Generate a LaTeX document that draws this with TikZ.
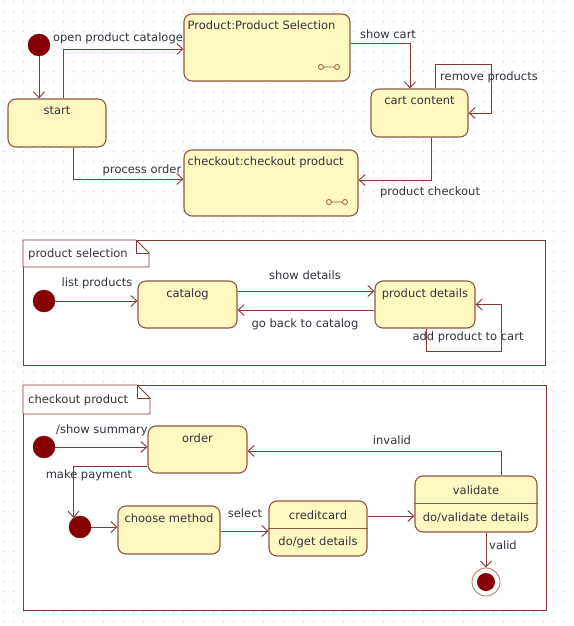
\documentclass[tikz,border=0pt]{standalone}
\usepackage{fontspec}
\setmainfont{DejaVu Sans}
\usetikzlibrary{arrows.meta,patterns.meta}
\definecolor{boxfill}{RGB}{255,248,192}
\definecolor{boxline}{RGB}{145,88,65}
\definecolor{wire}{RGB}{135,55,55}
\definecolor{dotred}{RGB}{135,0,5}
\definecolor{txt}{RGB}{50,50,62}
\definecolor{griddot}{RGB}{200,200,212}
\tikzdeclarepattern{name=griddots,type=uncolored,
  bounding box={(0pt,0pt) and (10pt,10pt)},tile size={(10pt,10pt)},
  code={\fill (5pt,5pt) circle (0.7pt);}}
\begin{document}
\begin{tikzpicture}[x=1pt,y=-1pt,
  font=\fontsize{11.5}{13}\selectfont,
  every node/.style={text=txt},
  sz/.style 2 args={minimum width=#1pt,minimum height=#2pt},
  state/.style={draw=boxline,fill=boxfill,rounded corners=8pt,line width=1.1pt,inner sep=0pt},
  title/.style={label={[anchor=north,yshift=-7pt,inner sep=1pt]north:#1}},
  titlew/.style={label={[anchor=north west,xshift=3pt,yshift=-6pt,inner sep=1pt]north west:#1}},
  init/.style={circle,fill=dotred,draw=dotred!85!black,minimum size=22pt,inner sep=0pt},
  arr/.style={draw=wire,line width=0.9pt,-{Straight Barb[length=6pt,width=11pt]}},
  wireline/.style={draw=wire,line width=0.9pt},
  lab/.style={inner sep=1pt},
  frame/.style={draw=wire,line width=0.9pt,fill=white},
  icon/.style={draw=boxline,line width=0.8pt}]
\useasboundingbox (0,0) rectangle (573,626);
\fill[white] (0,0) rectangle (573,626);
\fill[pattern=griddots,pattern color=griddot] (0,0) rectangle (573,626);

% ---------------- top level ----------------
\node[init] (i1) at (39,45) {};
\node[state,sz={98}{48},title=start] (start) at (57,123) {};
\node[state,sz={166}{67},titlew={Product:Product Selection}] (prodsel) at (267,47.5) {};
\node[state,sz={97}{48},title={cart content}] (cart) at (419.5,113) {};
\node[state,sz={174}{66},titlew={checkout:checkout product}] (checkout) at (271,183) {};
\draw[icon] (321,67) circle (2.5) (323.5,67) -- (334.5,67) (337,67) circle (2.5);
\draw[icon] (329,202) circle (2.5) (331.5,202) -- (342.5,202) (345,202) circle (2.5);
\coordinate (rp) at (491,64);

\draw[arr] (i1.south) -- (i1.south |- start.north);
\draw[arr] ([xshift=6pt]start.north) |- ([yshift=-1.5pt]prodsel.west);
\node[lab] (l1) at (118,38) {open product cataloge};
\draw[arr] ([yshift=4.5pt]prodsel.east) -| ([xshift=-9.5pt]cart.north);
\node[lab] (l2) at (388,34) {show cart};
\draw[arr] ([xshift=15.5pt]cart.north) |- (rp) |- (cart.east);
\node[lab] (l3) at (489,77) {remove products};
\draw[arr] ([xshift=11.5pt]cart.south) |- ([yshift=3pt]checkout.east);
\node[lab] (l4) at (430,192) {product checkout};
\draw[arr] ([xshift=16pt]start.south) |- ([yshift=4pt]checkout.west);
\node[lab] (l5) at (142,170) {process order};

% ---------------- product selection frame ----------------
\draw[frame] (23,240) rectangle (545,365);
\draw[frame] (23,240) -- (136,240) -- (149,253) -- (149,267) -- (23,267) -- cycle;
\draw[wireline] (136,240) -- (136,253) -- (149,253);
\node[lab,anchor=west] (psname) at (27,254) {product selection};

\node[init] (i2) at (44,301) {};
\node[state,sz={99}{47},title=catalog] (catalog) at (187.5,304.5) {};
\node[state,sz={100}{47},title={product details}] (pdetails) at (425,304.5) {};
\coordinate (ap) at (501,351);

\draw[arr] (i2.east) -- (i2.east -| catalog.west);
\node[lab] (l6) at (97,283) {list products};
\draw[arr] ([yshift=13.5pt]catalog.east) -- ([yshift=13.5pt]pdetails.west);
\node[lab] (l7) at (305,275) {show details};
\draw[arr] ([yshift=-5.5pt]pdetails.west) -- ([yshift=-5.5pt]catalog.east);
\node[lab] (l8) at (305,324) {go back to catalog};
\draw[arr] ([xshift=1pt]pdetails.south) |- (ap) |- (pdetails.east);
\node[lab] (l9) at (468,337) {add product to cart};

% ---------------- checkout product frame ----------------
\draw[frame] (23,385) rectangle (546,610);
\draw[frame] (23,385) -- (137,385) -- (150,398) -- (150,414) -- (23,414) -- cycle;
\draw[wireline] (137,385) -- (137,398) -- (150,398);
\node[lab,anchor=west] (cpname) at (27,400) {checkout product};

\node[init] (i3) at (44,447) {};
\node[init] (i4) at (80,527) {};
\node[state,sz={99}{47},title=order] (order) at (197.5,449.5) {};
\node[state,sz={102}{48},title={choose method}] (choose) at (169,530) {};
\node[state,sz={98}{55}] (credit) at (318,528.5) {};
\draw[draw=boxline,line width=1pt] (credit.west |- 0,528) -- (credit.east |- 0,528);
\node[lab] (cc1) at (318,515) {creditcard};
\node[lab] (cc2) at (318,542) {do/get details};
\node[state,sz={122}{56}] (validate) at (476,504) {};
\draw[draw=boxline,line width=1pt] (validate.west |- 0,503) -- (validate.east |- 0,503);
\node[lab] (va1) at (476,490) {validate};
\node[lab] (va2) at (476,517.5) {do/validate details};
\node[circle,draw=boxline!80,fill=white,line width=0.8pt,minimum size=28pt,inner sep=0pt] (fin) at (486,582) {};
\node[circle,fill=dotred,minimum size=18pt,inner sep=0pt] (finin) at (fin) {};

\draw[arr] (i3.east) -- (i3.east -| order.west);
\node[lab] (l10) at (102,430) {/show summary};
\draw[arr] ([xshift=25pt]validate.north) |- ([yshift=-1.5pt]order.east);
\node[lab] (l11) at (392,440) {invalid};
\draw[arr] ([yshift=-16.5pt]order.west) -| (i4.125);
\node[lab] (l12) at (89,475) {make payment};
\draw[arr] (i4.east) -- (i4.east -| choose.west);
\draw[arr] ([yshift=-1pt]choose.east) -- ([yshift=-1pt]choose.east -| credit.west);
\node[lab] (l13) at (245,513) {select};
\draw[arr] ([yshift=12.5pt]credit.east) -- ([yshift=12.5pt]credit.east -| validate.west);
\draw[arr] (validate.south -| fin.north) -- (fin.north);
\node[lab] (l14) at (503,545) {valid};
\end{tikzpicture}
\end{document}
